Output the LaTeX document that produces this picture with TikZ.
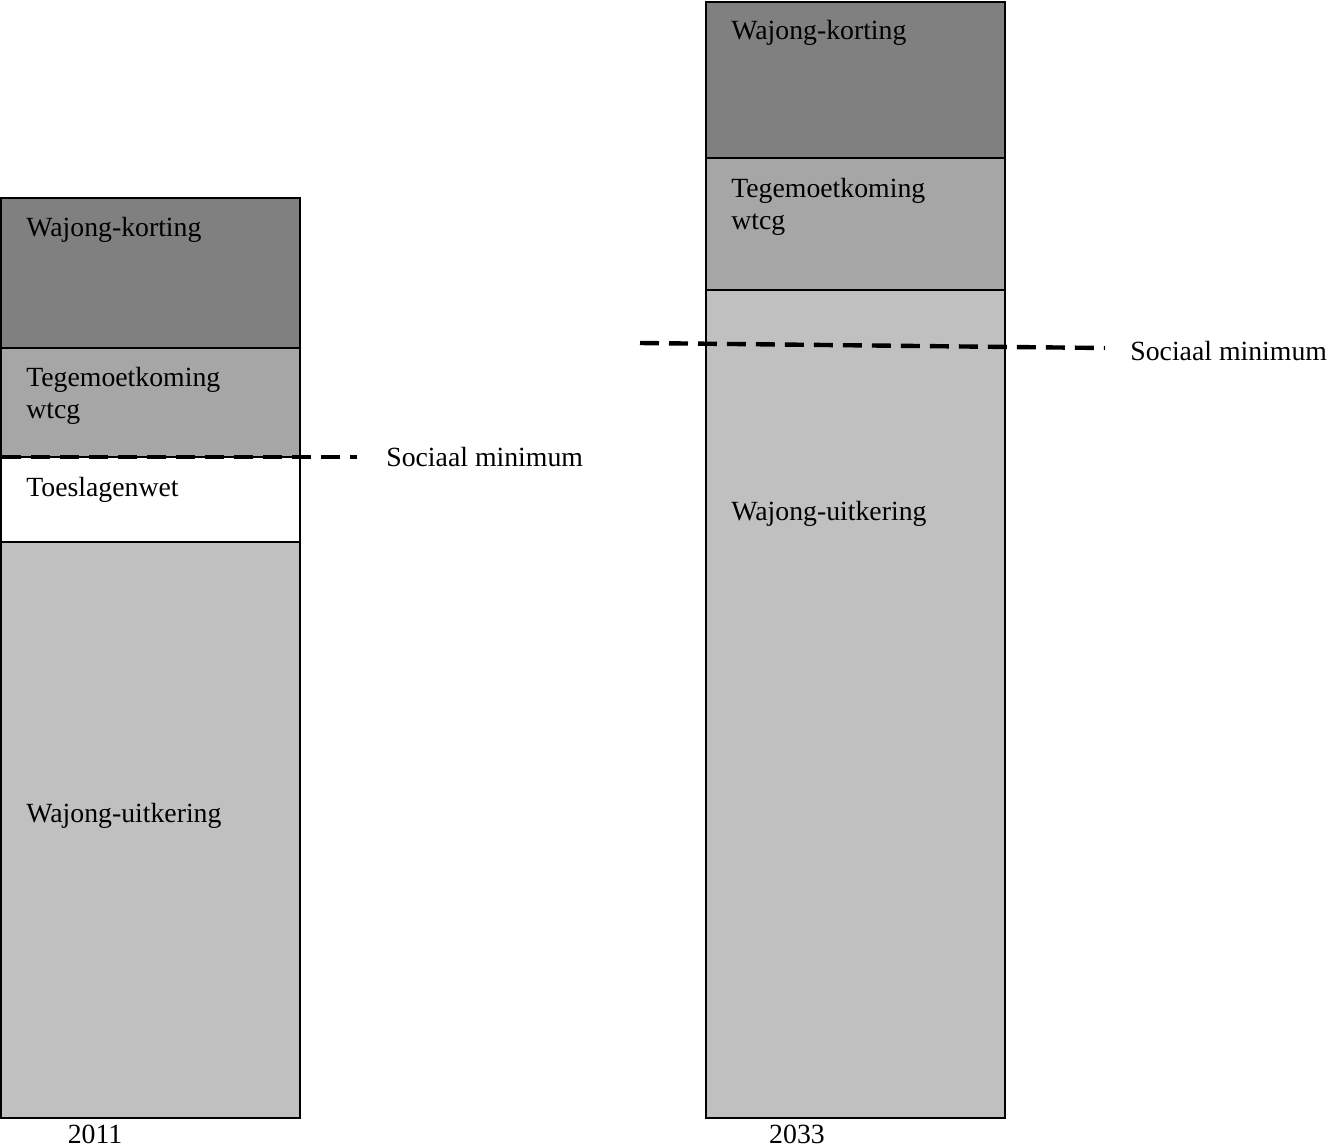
\documentclass[tikz,border=0pt]{standalone}
\usepackage{fontspec}
\setmainfont{Liberation Serif}
\definecolor{korting}{RGB}{128,128,128}
\definecolor{tegemoet}{RGB}{166,166,166}
\definecolor{uitkering}{RGB}{192,192,192}
\begin{document}
\begin{tikzpicture}[x=0.02cm,y=-0.02cm]
    \tikzstyle{bar}=[draw=black, line width=1.5pt]
    \tikzstyle{lbl}=[anchor=base west, inner sep=0pt, font=\fontsize{15.8}{19}\selectfont]
    \tikzstyle{yr}=[anchor=base, inner sep=0pt, font=\fontsize{15.8}{19}\selectfont]
    \tikzstyle{minline}=[line width=2.5pt, dash pattern=on 0.38cm off 0.2cm]
    \useasboundingbox (0,0) rectangle (1329,1147);
    % 2011
    \filldraw[bar, fill=korting] (1,198) rectangle (300,348);
    \filldraw[bar, fill=tegemoet] (1,348) rectangle (300,457);
    \filldraw[bar, fill=white] (1,457) rectangle (300,542);
    \filldraw[bar, fill=uitkering] (1,542) rectangle (300,1118);
    \node[lbl] (k1) at (26,236) {Wajong-korting};
    \node[lbl] (t1) at (26,386) {Tegemoetkoming};
    \node[lbl] (w1) at (26,418) {wtcg};
    \node[lbl] (s1) at (26,496) {Toeslagenwet};
    \node[lbl] (u1) at (26,822) {Wajong-uitkering};
    \coordinate (m1a) at (2,457);
    \coordinate (m1b) at (357,457);
    \draw[minline] (m1a) -- (m1b);
    \node[lbl] (min1) at (386,466) {Sociaal minimum};
    \node[yr] (y1) at (95,1143) {2011};
    % 2033
    \filldraw[bar, fill=korting] (706,2) rectangle (1005,158);
    \filldraw[bar, fill=tegemoet] (706,158) rectangle (1005,290);
    \filldraw[bar, fill=uitkering] (706,290) rectangle (1005,1118);
    \node[lbl] (k2) at (731,39) {Wajong-korting};
    \node[lbl] (t2) at (731,197) {Tegemoetkoming};
    \node[lbl] (w2) at (731,229) {wtcg};
    \node[lbl] (u2) at (731,520) {Wajong-uitkering};
    \coordinate (m2a) at (640,343);
    \coordinate (m2b) at (1105,348);
    \draw[minline] (m2a) -- (m2b);
    \node[lbl] (min2) at (1130,360) {Sociaal minimum};
    \node[yr] (y2) at (797,1143) {2033};
\end{tikzpicture}
\end{document}
